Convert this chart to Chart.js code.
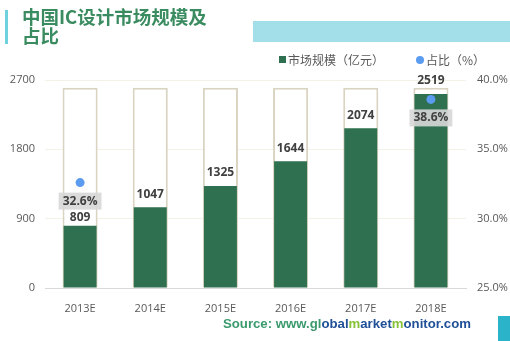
<!DOCTYPE html>
<html>
<head>
<meta charset="utf-8">
<script src="https://cdn.jsdelivr.net/npm/chart.js@4/dist/chart.umd.min.js"></script>
<style>
  html, body { margin: 0; padding: 0; background: #fff; }
  #wrap { position: relative; width: 510px; height: 341px; overflow: hidden; }
  #c { position: absolute; left: 0; top: 0; }
  .deco { position: absolute; }
  #title { position: absolute; left: 22px; top: 7px; font: bold 18.5px "Noto Sans CJK SC", sans-serif;
           line-height: 19px; color: #3a8c60; }
  #legend { position: absolute; top: 51px; left: 279px; font: 12px "Noto Sans CJK SC", sans-serif; color: #595959; }
  #legend span { position: absolute; white-space: nowrap; top: 0; }
  #source { position: absolute; left: 223px; top: 316px; font: bold 13.2px "Liberation Sans", Arial, sans-serif;
            color: #3b9a6d; white-space: nowrap; }
  #source .b { color: #1f4f97; }
  #source .g { color: #86c23a; }
</style>
</head>
<body>
<div id="wrap">
  <canvas id="c" width="510" height="341"></canvas>
  <div class="deco" style="left:5px;top:10px;width:3px;height:34px;background:#6fd0de"></div>
  <div class="deco" style="left:253px;top:21px;width:257px;height:21px;background:#a2dfe8"></div>
  <div class="deco" style="left:498px;top:316px;width:12px;height:25px;background:#2ab3c9"></div>
  <div id="title">中国IC设计市场规模及<br>占比</div>
  <div id="legend">
    <span style="left:0;top:5px;width:7px;height:7px;background:#2e7050"></span>
    <span style="left:9px">市场规模（亿元）</span>
    <span style="left:137px;top:5px;width:8px;height:8px;border-radius:50%;background:#5b9bf0"></span>
    <span style="left:147px">占比（%）</span>
  </div>
  <div id="source">Source: www.gl<span class="b">obal</span><span class="g">m</span><span class="b">arket</span><span class="g">m</span><span class="b">onitor.com</span></div>
</div>
<script>
// chart data
const years = ['2013E', '2014E', '2015E', '2016E', '2017E', '2018E'];
const marketSize = [809, 1047, 1325, 1644, 2074, 2519];
const share = [32.6, null, null, null, null, 38.6];
const frameValues = [2600, 2600, 2600, 2600, 2600, 2600];
const leftTicks = [0, 900, 1800, 2700];
const rightTicks = [25, 30, 35, 40];

const labelFont = 'bold 12px "Open Sans", sans-serif';

// draws the value labels and the grey percent boxes
const labelPlugin = {
  id: 'labels',
  afterDatasetsDraw(chart) {
    const ctx = chart.ctx;
    const bars = chart.getDatasetMeta(1).data;
    const pts = chart.getDatasetMeta(0).data;
    ctx.save();
    ctx.font = labelFont;
    ctx.textAlign = 'center';
    ctx.textBaseline = 'middle';
    bars.forEach((bar, i) => {
      let y = bar.y - 13;
      if (share[i] != null) {
        const bTop = pts[i].y + 10, bBot = pts[i].y + 27;
        if (y > bTop - 8 && y < bBot + 8) y = bBot + 8;
      }
      ctx.fillStyle = '#404040';
      ctx.fillText(String(marketSize[i]), bar.x, y);
    });
    pts.forEach((p, i) => {
      if (share[i] == null) return;
      const txt = share[i].toFixed(1) + '%';
      const w = ctx.measureText(txt).width + 8;
      const cy = p.y + 18.5;
      ctx.fillStyle = 'rgba(215,215,215,0.9)';
      ctx.fillRect(p.x - w / 2, cy - 8.5, w, 17);
      ctx.fillStyle = '#404040';
      ctx.fillText(txt, p.x, cy);
    });
    ctx.restore();
  }
};

const tickFont = { size: 11, family: 'Open Sans' };

new Chart(document.getElementById('c'), {
  data: {
    labels: years,
    datasets: [
      {
        type: 'line', label: '占比（%）', data: share, yAxisID: 'y2', order: 0,
        showLine: false, pointRadius: 4.5, pointBackgroundColor: '#5b9bf0',
        pointBorderColor: '#5b9bf0', pointBorderWidth: 0
      },
      {
        type: 'bar', label: '市场规模（亿元）', data: marketSize, yAxisID: 'y', order: 1,
        backgroundColor: '#2e7050', grouped: false,
        categoryPercentage: 1, barPercentage: 0.47
      },
      {
        type: 'bar', label: 'frame', data: frameValues, yAxisID: 'y', order: 2,
        backgroundColor: '#ffffff', borderColor: '#d9d3c1', borderWidth: 2,
        grouped: false, categoryPercentage: 1, barPercentage: 0.5
      }
    ]
  },
  options: {
    responsive: false,
    animation: false,
    layout: { padding: { top: 80, left: 0, right: 0, bottom: 0 } },
    plugins: { legend: { display: false }, tooltip: { enabled: false } },
    scales: {
      x: {
        grid: { display: false },
        border: { color: '#d9d9d9', width: 1 },
        ticks: { color: '#595959', font: tickFont, padding: 6 },
        afterFit(s) { s.height = 53; }
      },
      y: {
        position: 'left', min: 0, max: 2700,
        afterBuildTicks(s) { s.ticks = leftTicks.map(v => ({ value: v })); },
        grid: { color: '#f4f1e6', drawTicks: false },
        border: { display: false },
        ticks: { color: '#595959', font: tickFont, padding: 10, callback: v => String(v) },
        afterFit(s) { s.width = 45; }
      },
      y2: {
        position: 'right', min: 25, max: 40,
        afterBuildTicks(s) { s.ticks = rightTicks.map(v => ({ value: v })); },
        grid: { display: false, drawTicks: false },
        border: { display: false },
        ticks: { color: '#595959', font: tickFont, padding: 11,
                 callback: v => v.toFixed(1) + '%' },
        afterFit(s) { s.width = 44; }
      }
    }
  },
  plugins: [labelPlugin]
});
</script>
</body>
</html>
